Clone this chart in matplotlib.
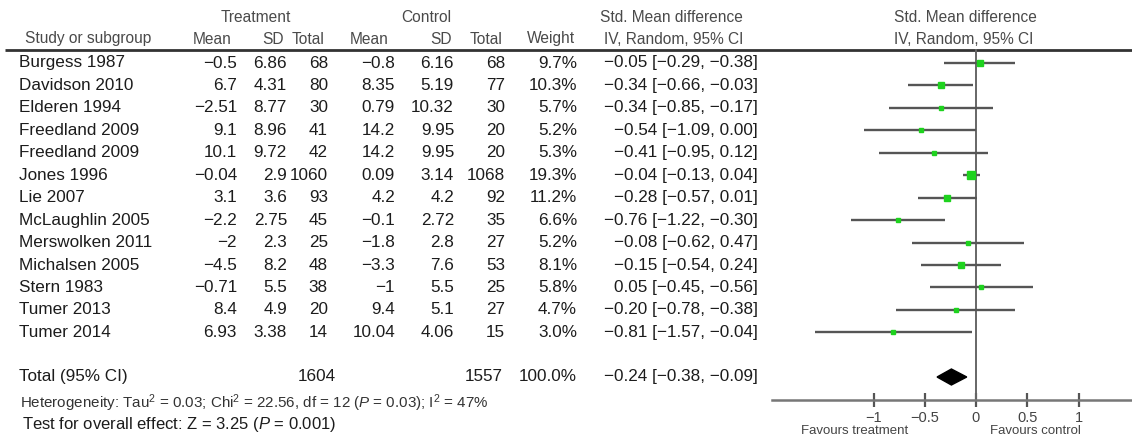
import matplotlib
matplotlib.use("Agg")
import matplotlib.pyplot as plt
from matplotlib.patches import Polygon

# ---------------- data ----------------
studies = ["Burgess 1987", "Davidson 2010", "Elderen 1994", "Freedland 2009",
           "Freedland 2009", "Jones 1996", "Lie 2007", "McLaughlin 2005",
           "Merswolken 2011", "Michalsen 2005", "Stern 1983", "Tumer 2013",
           "Tumer 2014"]
trt_mean = ["−0.5", "6.7", "−2.51", "9.1", "10.1", "−0.04", "3.1", "−2.2",
            "−2", "−4.5", "−0.71", "8.4", "6.93"]
trt_sd = ["6.86", "4.31", "8.77", "8.96", "9.72", "2.9", "3.6", "2.75",
          "2.3", "8.2", "5.5", "4.9", "3.38"]
trt_n = [68, 80, 30, 41, 42, 1060, 93, 45, 25, 48, 38, 20, 14]
ctl_mean = ["−0.8", "8.35", "0.79", "14.2", "14.2", "0.09", "4.2", "−0.1",
            "−1.8", "−3.3", "−1", "9.4", "10.04"]
ctl_sd = ["6.16", "5.19", "10.32", "9.95", "9.95", "3.14", "4.2", "2.72",
          "2.8", "7.6", "5.5", "5.1", "4.06"]
ctl_n = [68, 77, 30, 20, 20, 1068, 92, 35, 27, 53, 25, 27, 15]
weight = [9.7, 10.3, 5.7, 5.2, 5.3, 19.3, 11.2, 6.6, 5.2, 8.1, 5.8, 4.7, 3.0]
ci_text = ["−0.05 [−0.29, −0.38]", "−0.34 [−0.66, −0.03]", "−0.34 [−0.85, −0.17]",
           "−0.54 [−1.09, 0.00]", "−0.41 [−0.95, 0.12]", "−0.04 [−0.13, 0.04]",
           "−0.28 [−0.57, 0.01]", "−0.76 [−1.22, −0.30]", "−0.08 [−0.62, 0.47]",
           "−0.15 [−0.54, 0.24]", "0.05 [−0.45, −0.56]", "−0.20 [−0.78, −0.38]",
           "−0.81 [−1.57, −0.04]"]
# plotted values (as drawn in the picture)
smd = [0.04, -0.34, -0.34, -0.54, -0.41, -0.05, -0.28, -0.76, -0.08, -0.15, 0.05, -0.20, -0.81]
ci_lo = [-0.31, -0.66, -0.85, -1.09, -0.95, -0.13, -0.57, -1.22, -0.62, -0.54, -0.45, -0.78, -1.57]
ci_hi = [0.38, -0.03, 0.17, 0.00, 0.12, 0.04, 0.01, -0.30, 0.47, 0.24, 0.56, 0.38, -0.04]

total_trt = 1604
total_ctl = 1557
total_weight = "100.0%"
total_ci_text = "−0.24 [−0.38, −0.09]"
pooled = -0.24
pooled_lo = -0.38
pooled_hi = -0.09

xticks = [-1, -0.5, 0, 0.5, 1]
xtick_labels = ["−1", "−0.5", "0", "0.5", "1"]

# ---------------- style ----------------
plt.rcParams["font.family"] = ["Liberation Sans", "DejaVu Sans"]
plt.rcParams["mathtext.fontset"] = "custom"
plt.rcParams["mathtext.rm"] = "Liberation Sans"
plt.rcParams["mathtext.it"] = "Liberation Sans:italic"

W, H = 1132, 438
fig = plt.figure(figsize=(W / 100, H / 100), dpi=100)

ROW0, ROWH = 63.0, 22.45
ytop = -ROW0 / ROWH
ybot = (H - ROW0) / ROWH

# table axes: x in pixels, y in row units
tab = fig.add_axes([0, 0, 1, 1])
tab.set_xlim(0, W)
tab.set_ylim(ybot, ytop)
tab.axis("off")

# forest axes
ZERO_PX, UNIT_PX = 976.0, 102.5
left_px = 771.7
fax = fig.add_axes([left_px / W, 0, (W - left_px) / W, 1])
fax.set_xlim((left_px - ZERO_PX) / UNIT_PX, (W - ZERO_PX) / UNIT_PX)
fax.set_ylim(ybot, ytop)
fax.patch.set_alpha(0)

TXT = "#1c1c1c"
HDR = "#4a4a4a"
FS = 12.3
HFS = 11.2

def hy(px):
    return (px - ROW0) / ROWH

# headers
tab.text(256, hy(17), "Treatment", ha="center", va="center", fontsize=HFS, color=HDR)
tab.text(426, hy(17), "Control", ha="center", va="center", fontsize=HFS, color=HDR)
tab.text(743, hy(17), "Std. Mean difference", ha="right", va="center", fontsize=HFS, color=HDR)
tab.text(965, hy(17), "Std. Mean difference", ha="center", va="center", fontsize=HFS, color=HDR)
hdr2 = [(25, "Study or subgroup", "left"), (232, "Mean", "right"), (284, "SD", "right"),
        (325, "Total", "right"), (389, "Mean", "right"), (452, "SD", "right"),
        (503, "Total", "right"), (575, "Weight", "right"),
        (743, "IV, Random, 95% CI", "right")]
for x, s, ha in hdr2:
    tab.text(x, hy(39), s, ha=ha, va="center", fontsize=HFS, color=HDR)
tab.text(964, hy(39), "IV, Random, 95% CI", ha="center", va="center", fontsize=HFS, color=HDR)

tab.plot([5, W], [hy(50), hy(50)], color="#333333", lw=2.0, solid_capstyle="butt")

# rows
for i, name in enumerate(studies):
    y = i
    tab.text(19, y, name, ha="left", va="center", fontsize=FS, color=TXT)
    tab.text(237, y, trt_mean[i], ha="right", va="center", fontsize=FS, color=TXT)
    tab.text(287, y, trt_sd[i], ha="right", va="center", fontsize=FS, color=TXT)
    tab.text(328, y, str(trt_n[i]), ha="right", va="center", fontsize=FS, color=TXT)
    tab.text(395, y, ctl_mean[i], ha="right", va="center", fontsize=FS, color=TXT)
    tab.text(454, y, ctl_sd[i], ha="right", va="center", fontsize=FS, color=TXT)
    tab.text(505, y, str(ctl_n[i]), ha="right", va="center", fontsize=FS, color=TXT)
    tab.text(577, y, f"{weight[i]:.1f}%", ha="right", va="center", fontsize=FS, color=TXT)
    tab.text(758, y, ci_text[i], ha="right", va="center", fontsize=FS, color=TXT)

    fax.plot([ci_lo[i], ci_hi[i]], [y, y], color="#555555", lw=1.7, solid_capstyle="butt", zorder=3)
    fax.plot([smd[i]], [y], marker="s", ms=1.4 * weight[i] ** 0.5, color="#1ed21e",
             mec="#1ed21e", zorder=4)

# total row
ty = hy(377)
tab.text(19, ty, "Total (95% CI)", ha="left", va="center", fontsize=FS, color=TXT)
tab.text(336, ty, str(total_trt), ha="right", va="center", fontsize=FS, color=TXT)
tab.text(503, ty, str(total_ctl), ha="right", va="center", fontsize=FS, color=TXT)
tab.text(577, ty, total_weight, ha="right", va="center", fontsize=FS, color=TXT)
tab.text(758, ty, total_ci_text, ha="right", va="center", fontsize=FS, color=TXT)

dh = 8 / ROWH
fax.add_patch(Polygon([[pooled_lo, ty], [pooled, ty - dh], [pooled_hi, ty], [pooled, ty + dh]],
                      closed=True, color="black", zorder=5))

tab.text(20, hy(403), "Heterogeneity: Tau$^2$ = 0.03; Chi$^2$ = 22.56, df = 12 ($P$ = 0.03); I$^2$ = 47%",
         ha="left", va="center", fontsize=10.9, color="#333333")
tab.text(22, hy(425), "Test for overall effect: Z = 3.25 ($P$ = 0.001)",
         ha="left", va="center", fontsize=12.0, color=TXT)

# zero line
axis_y = hy(400)
fax.plot([0, 0], [hy(50), axis_y], color="#666666", lw=1.4, zorder=2)

# axis
for s in ["top", "right", "left"]:
    fax.spines[s].set_visible(False)
fax.spines["bottom"].set_position(("data", axis_y))
fax.spines["bottom"].set_color("#777777")
fax.spines["bottom"].set_linewidth(1.8)
fax.set_yticks([])
fax.set_xticks(xticks)
fax.set_xticklabels(xtick_labels)
fax.tick_params(axis="x", direction="inout", length=10, width=1.6, color="#555555",
                labelsize=10.5, labelcolor="#444444", pad=3)

fax.text(-1.18, hy(431), "Favours treatment", ha="center", va="center", fontsize=9.5, color="#444444")
fax.text(0.58, hy(431), "Favours control", ha="center", va="center", fontsize=9.5, color="#444444")

fig.savefig("out.png", dpi=100)
